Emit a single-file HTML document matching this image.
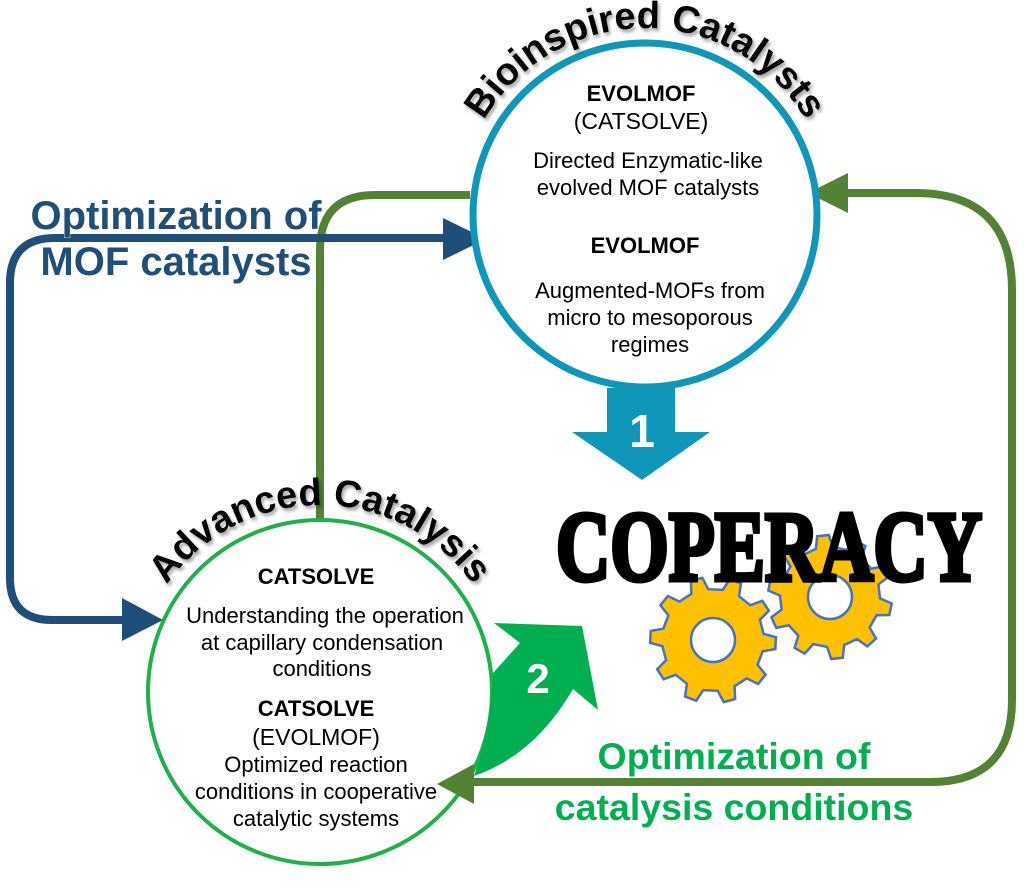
<!DOCTYPE html>
<html><head><meta charset="utf-8"><style>
html,body{margin:0;padding:0;background:#fff;}
svg{display:block}
text{font-family:"Liberation Sans",sans-serif}
</style></head><body>
<svg width="1024" height="890" viewBox="0 0 1024 890" xmlns="http://www.w3.org/2000/svg">
<defs>
<filter id="sh" x="-10%" y="-10%" width="120%" height="130%"><feDropShadow dx="2" dy="3" stdDeviation="1.5" flood-color="#000" flood-opacity="0.35"/></filter>
<path id="arcT" d="M 458 215 A 187 187 0 0 1 832 215"/>
<path id="arcB" d="M 133 692 A 187 187 0 0 1 507 692"/>
</defs>

<path d="M 470 195 L 375 195 Q 320 195 320 250 L 320 522" fill="none" stroke="#548235" stroke-width="8"/>
<path d="M 845 193 L 915 193 Q 1012 193 1012 290 L 1012 700 Q 1012 782 930 782 L 470 782" fill="none" stroke="#548235" stroke-width="8"/>
<polygon points="808,193 848,173 848,213" fill="#548235"/>

<path d="M 450 238 L 55 238 Q 10 238 10 283 L 10 578 Q 10 620 52 620 L 130 620" fill="none" stroke="#1f4e79" stroke-width="8"/>
<polygon points="486,239 443,218 443,260" fill="#1f4e79"/>
<polygon points="163,620 122,598 122,641" fill="#1f4e79"/>

<g font-weight="bold" font-size="40" fill="#1f4e79" text-anchor="middle" stroke="#fff" stroke-width="0.8" paint-order="stroke">
<text x="176" y="229">Optimization of</text>
<text x="176" y="275">MOF catalysts</text>
</g>

<circle cx="645" cy="215" r="172" fill="#fff" stroke="#0e97b9" stroke-width="7"/>
<polygon points="607,388 675,388 675,432 710,432 642,480 572,432 607,432" fill="#0e97b9"/>
<text x="642" y="447" font-size="46" font-weight="bold" fill="#fff" text-anchor="middle">1</text>

<circle cx="320" cy="692" r="172" fill="#fff" stroke="#1db04b" stroke-width="4"/>

<g id="gears"></g>
<text x="556" y="580" font-size="100" font-weight="bold" textLength="426" lengthAdjust="spacingAndGlyphs" stroke="#000" stroke-width="5" style="font-family:'Liberation Serif','DejaVu Serif',serif">COPERACY</text>

<path d="M 474 776 Q 492 720 493 673 L 520 643 L 494 623 L 582 626 L 598 710 L 573 689 Q 535 755 474 776 Z" fill="#00b050"/>
<polygon points="437,784 474,764 474,804" fill="#548235"/>
<text x="538" y="693" font-size="42" font-weight="bold" fill="#fff" text-anchor="middle">2</text>

<text font-size="38" font-weight="bold" fill="#000" filter="url(#sh)"><textPath href="#arcT" startOffset="50%" text-anchor="middle">Bioinspired Catalysts</textPath></text>
<text font-size="38" font-weight="bold" fill="#000" filter="url(#sh)"><textPath href="#arcB" startOffset="50%" text-anchor="middle">Advanced Catalysis</textPath></text>

<g font-size="22" fill="#000" text-anchor="middle">
<text x="641" y="101" font-weight="bold">EVOLMOF</text>
<text x="641" y="129" font-size="23">(CATSOLVE)</text>
<text x="648" y="168">Directed Enzymatic-like</text>
<text x="648" y="195">evolved MOF catalysts</text>
<text x="645" y="253" font-weight="bold">EVOLMOF</text>
<text x="650" y="298">Augmented-MOFs from</text>
<text x="650" y="325">micro to mesoporous</text>
<text x="650" y="352">regimes</text>
</g>

<g font-size="22" fill="#000" text-anchor="middle">
<text x="316" y="584" font-weight="bold">CATSOLVE</text>
<text x="325" y="623">Understanding the operation</text>
<text x="322" y="650">at capillary condensation</text>
<text x="322" y="676">conditions</text>
<text x="316" y="716" font-weight="bold">CATSOLVE</text>
<text x="316" y="745" font-size="23">(EVOLMOF)</text>
<text x="316" y="772">Optimized reaction</text>
<text x="316" y="799">conditions in cooperative</text>
<text x="316" y="826">catalytic systems</text>
</g>

<g font-weight="bold" font-size="37.5" fill="#00b050" text-anchor="middle">
<text x="734" y="769">Optimization of</text>
<text x="734" y="820">catalysis conditions</text>
</g>
</svg>
<script>
(function(){
 function gear(cx,cy,R,r,hole,n,rot){
  var pts=[];
  for(var i=0;i<n;i++){
   var a=(i/n)*2*Math.PI+rot, w=Math.PI/n;
   [[a-w*0.55,r],[a-w*0.3,R],[a+w*0.3,R],[a+w*0.55,r]].forEach(function(p){pts.push((cx+p[1]*Math.cos(p[0])).toFixed(1)+","+(cy+p[1]*Math.sin(p[0])).toFixed(1));});
  }
  return "M"+pts.join(" L")+" Z M"+(cx+hole)+","+cy+" A"+hole+","+hole+" 0 1 0 "+(cx-hole)+","+cy+" A"+hole+","+hole+" 0 1 0 "+(cx+hole)+","+cy+" Z";
 }
 var ns="http://www.w3.org/2000/svg";
 var g=document.getElementById("gears");
 [[830,597,62,50,22,10,0.2],[713,640,63,51,22,10,0.05]].forEach(function(p){
  var e=document.createElementNS(ns,"path");
  e.setAttribute("d",gear.apply(null,p));
  e.setAttribute("fill","#ffc000");e.setAttribute("fill-rule","evenodd");
  e.setAttribute("stroke","#4472c4");e.setAttribute("stroke-width","2.5");
  g.appendChild(e);
 });
})();
</script>
</body></html>
